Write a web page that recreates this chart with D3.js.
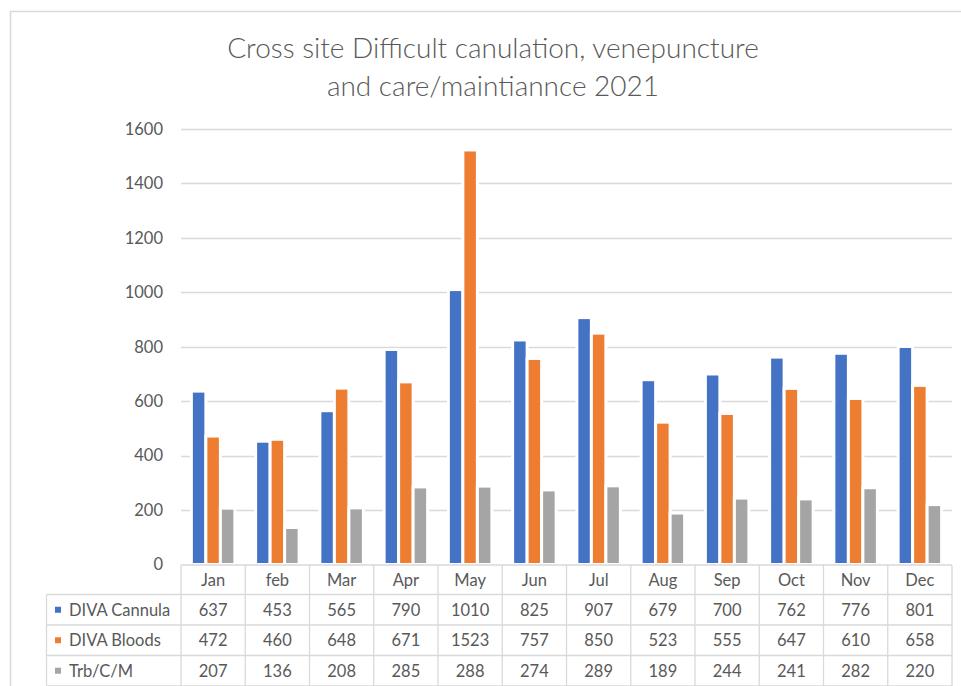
<!DOCTYPE html>
<html>
<head>
<meta charset="utf-8">
<script src="https://cdn.jsdelivr.net/npm/d3@7"></script>
<style>
  body { margin: 0; background: #fff; }
  svg { display: block; font-family: Lato, "Open Sans", sans-serif; }
</style>
</head>
<body>
<svg id="chart" width="961" height="686"></svg>
<script>
const months = ["Jan", "feb", "Mar", "Apr", "May", "Jun", "Jul", "Aug", "Sep", "Oct", "Nov", "Dec"];
const seriesNames = ["DIVA Cannula", "DIVA Bloods", "Trb/C/M"];
const divaCannula = [637, 453, 565, 790, 1010, 825, 907, 679, 700, 762, 776, 801];
const divaBloods = [472, 460, 648, 671, 1523, 757, 850, 523, 555, 647, 610, 658];
const trbCM = [207, 136, 208, 285, 288, 274, 289, 189, 244, 241, 282, 220];
const yTicks = [0, 200, 400, 600, 800, 1000, 1200, 1400, 1600];
const colors = ["#4472C4", "#ED7D31", "#A5A5A5"];

const seriesValues = [divaCannula, divaBloods, trbCM];
const textColor = "#595959";
const gridColor = "#D9D9D9";

const svg = d3.select("#chart");
const plot = { left: 181, right: 952, top: 129, bottom: 564.5 };

// outer chart frame
svg.append("rect")
  .attr("x", 10.5).attr("y", 11.5).attr("width", 1000).attr("height", 1000)
  .attr("fill", "#fff").attr("stroke", gridColor).attr("stroke-width", 1.5);

// title
const title = svg.append("text")
  .attr("x", 493).attr("fill", textColor)
  .attr("text-anchor", "middle")
  .style("font-size", "28px").style("font-weight", 300);
title.append("tspan").attr("x", 493).attr("y", 58).text("Cross site Difficult canulation, venepuncture");
title.append("tspan").attr("x", 493).attr("y", 96).text("and care/maintiannce 2021");

const x0 = d3.scaleBand().domain(months).range([plot.left, plot.right]).padding(0);
const y = d3.scaleLinear().domain([0, 1600]).range([plot.bottom, plot.top]);

// gridlines
svg.append("g").selectAll("line")
  .data(yTicks.filter(d => d > 0))
  .join("line")
  .attr("x1", plot.left).attr("x2", plot.right)
  .attr("y1", d => Math.round(y(d)) + 0.5).attr("y2", d => Math.round(y(d)) + 0.5)
  .attr("stroke", gridColor).attr("stroke-width", 1.3);

// y axis labels
const yAxis = svg.append("g")
  .attr("transform", `translate(${plot.left - 18},0)`)
  .call(d3.axisLeft(y).tickValues(yTicks).tickFormat(d3.format("d")).tickSize(0).tickPadding(0));
yAxis.select(".domain").remove();
yAxis.selectAll("text")
  .attr("fill", textColor)
  .style("font-size", "16.5px").style("font-family", "Lato, sans-serif");

// bars
const groupW = 43.5;
const x1 = d3.scaleBand().domain(d3.range(3)).range([-groupW / 2, groupW / 2]);
const groups = svg.append("g").selectAll("g")
  .data(months)
  .join("g")
  .attr("transform", d => `translate(${x0(d) + x0.bandwidth() / 2},0)`);
groups.selectAll("rect")
  .data((m, i) => seriesValues.map((s, k) => ({ k, v: s[i] })))
  .join("rect")
  .attr("x", d => x1(d.k))
  .attr("width", x1.bandwidth())
  .attr("y", d => y(d.v))
  .attr("height", d => y(0) - y(d.v))
  .attr("fill", d => colors[d.k])
  .attr("stroke", "#fff")
  .attr("stroke-width", 3);

// data table
const tableTop = 565, headerH = 29.5, rowH = 30.5, legendLeft = 46.5;
const tbl = svg.append("g").attr("stroke", gridColor).attr("stroke-width", 1.3);
const rowYs = [tableTop, tableTop + headerH, tableTop + headerH + rowH, tableTop + headerH + 2 * rowH, tableTop + headerH + 3 * rowH];
// horizontal lines
tbl.selectAll("line.h")
  .data(rowYs)
  .join("line")
  .attr("x1", (d, i) => i === 0 ? plot.left : legendLeft)
  .attr("x2", plot.right)
  .attr("y1", d => d).attr("y2", d => d);
// vertical lines
const colEdges = months.map(m => x0(m)).concat([plot.right]);
tbl.selectAll("line.v")
  .data(colEdges)
  .join("line")
  .attr("x1", d => d).attr("x2", d => d)
  .attr("y1", tableTop).attr("y2", 700);
tbl.append("line")
  .attr("x1", legendLeft).attr("x2", legendLeft)
  .attr("y1", tableTop + headerH).attr("y2", 700);

const cellText = svg.append("g")
  .attr("fill", textColor)
  .style("font-size", "16.5px")
  .attr("text-anchor", "middle");
cellText.selectAll("text.m")
  .data(months)
  .join("text")
  .attr("x", d => x0(d) + x0.bandwidth() / 2)
  .attr("y", tableTop + headerH / 2)
  .attr("dy", "0.36em")
  .text(d => d);
seriesValues.forEach((s, k) => {
  const cy = tableTop + headerH + rowH * k + rowH / 2;
  cellText.append("g").selectAll("text")
    .data(s)
    .join("text")
    .attr("x", (d, i) => x0(months[i]) + x0.bandwidth() / 2)
    .attr("y", cy)
    .attr("dy", "0.36em")
    .text(d => d);
  svg.append("rect")
    .attr("x", 55).attr("y", cy - 3).attr("width", 6).attr("height", 6)
    .attr("fill", colors[k]);
  svg.append("text")
    .attr("x", 69).attr("y", cy).attr("dy", "0.36em")
    .attr("fill", textColor)
    .style("font-size", "16.5px")
    .text(seriesNames[k]);
});
</script>
</body>
</html>
